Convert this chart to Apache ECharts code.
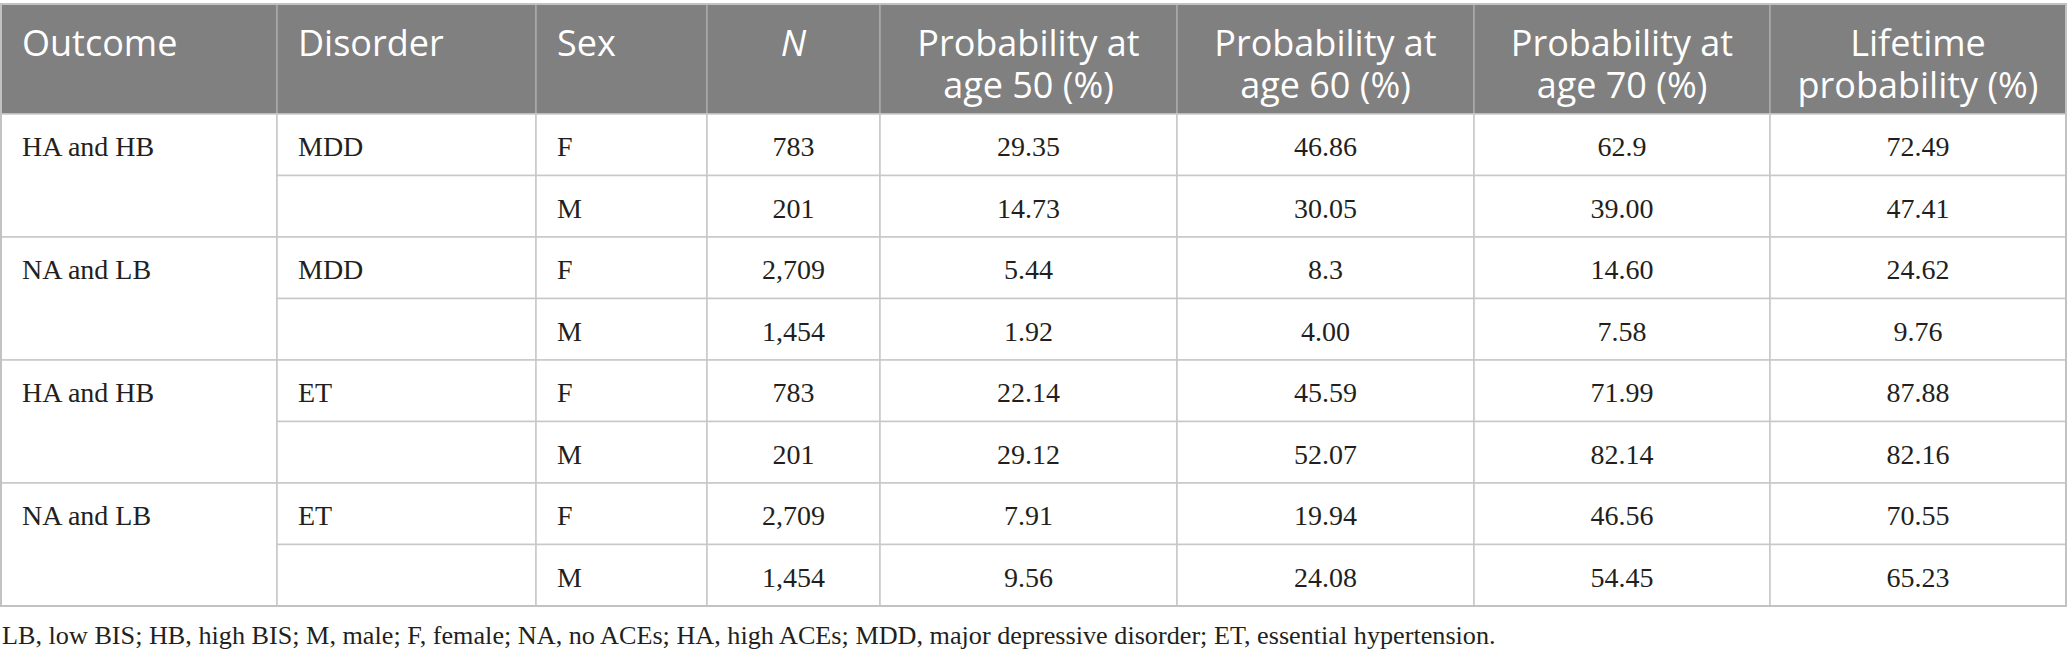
<!DOCTYPE html>
<html>
<head>
<meta charset="utf-8">
<script src="https://cdn.jsdelivr.net/npm/echarts@6.0.0/dist/echarts.min.js"></script>
<style>
html,body{margin:0;padding:0;background:#fff;}
#chart{width:2068px;height:658px;}
</style>
</head>
<body>
<div id="chart"></div>
<script>
// ---- data ----
const headers = ['Outcome', 'Disorder', 'Sex', 'N', 'Probability at\nage 50 (%)', 'Probability at\nage 60 (%)', 'Probability at\nage 70 (%)', 'Lifetime\nprobability (%)'];
const outcomes = ['HA and HB', 'NA and LB', 'HA and HB', 'NA and LB'];
const disorders = ['MDD', 'MDD', 'ET', 'ET'];
const sexes = ['F', 'M', 'F', 'M', 'F', 'M', 'F', 'M'];
const nValues = ['783', '201', '2,709', '1,454', '783', '201', '2,709', '1,454'];
const prob50 = ['29.35', '14.73', '5.44', '1.92', '22.14', '29.12', '7.91', '9.56'];
const prob60 = ['46.86', '30.05', '8.3', '4.00', '45.59', '52.07', '19.94', '24.08'];
const prob70 = ['62.9', '39.00', '14.60', '7.58', '71.99', '82.14', '46.56', '54.45'];
const lifetime = ['72.49', '47.41', '24.62', '9.76', '87.88', '82.16', '70.55', '65.23'];
const footnote = 'LB, low BIS; HB, high BIS; M, male; F, female; NA, no ACEs; HA, high ACEs; MDD, major depressive disorder; ET, essential hypertension.';

// ---- layout (sizes, not data) ----
const colWidths = [276, 259, 171, 173, 297, 297, 296, 296];
const HEADER_H = 110;
const ROW_H = 61.5;
const N_ROWS = sexes.length;
const TOTAL_W = colWidths.reduce((a, b) => a + b, 0);
const TOTAL_H = HEADER_H + N_ROWS * ROW_H;
const colEdges = [0];
colWidths.forEach(w => colEdges.push(colEdges[colEdges.length - 1] + w));
const PAD = 21;
const HEAD_FONT = 36;
const HEAD_LINE = 42;

// ---- build cells ----
const cells = [];
function rowTop(r) { return HEADER_H + r * ROW_H; }
headers.forEach((h, c) => {
  cells.push({col: c, y0: 0, y1: HEADER_H, text: h, kind: 'header', align: c < 3 ? 'left' : 'center', italic: c === 3});
});
const numericCols = [nValues, prob50, prob60, prob70, lifetime];
for (let r = 0; r < N_ROWS; r++) {
  const g = Math.floor(r / 2);
  if (r % 2 === 0) {
    cells.push({col: 0, y0: rowTop(r), y1: rowTop(r + 2), text: outcomes[g], kind: 'body', align: 'left', textRowTop: rowTop(r)});
  }
  cells.push({col: 1, y0: rowTop(r), y1: rowTop(r + 1), text: r % 2 === 0 ? disorders[g] : '', kind: 'body', align: 'left'});
  cells.push({col: 2, y0: rowTop(r), y1: rowTop(r + 1), text: sexes[r], kind: 'body', align: 'left'});
  numericCols.forEach((arr, k) => {
    cells.push({col: 3 + k, y0: rowTop(r), y1: rowTop(r + 1), text: arr[r], kind: 'body', align: 'center'});
  });
}
cells.push({kind: 'frame', col: 0, y0: 0, y1: TOTAL_H, text: ''});

const seriesData = cells.map(c => {
  if (c.kind === 'frame') return [0, 0, TOTAL_W, TOTAL_H];
  return [colEdges[c.col], c.y0, colEdges[c.col + 1], c.y1];
});

function renderItem(params, api) {
  const c = cells[params.dataIndex];
  const p0 = api.coord([api.value(0), api.value(1)]);
  const p1 = api.coord([api.value(2), api.value(3)]);
  const x = p0[0], y = p0[1], w = p1[0] - p0[0], h = p1[1] - p0[1];
  if (c.kind === 'frame') {
    return {type: 'rect', shape: {x: x, y: y, width: w, height: h}, style: {fill: 'none', stroke: '#c2c2c2', lineWidth: 2}};
  }
  const children = [];
  if (c.kind === 'header') {
    children.push({type: 'rect', shape: {x: x, y: y, width: w, height: h}, style: {fill: '#7f807f', stroke: '#a9aaa9', lineWidth: 1.5}});
    c.text.split('\n').forEach((line, i) => {
      children.push({type: 'text', style: {
        text: line, x: c.align === 'left' ? x + PAD : x + w / 2, y: y + 38 + i * HEAD_LINE,
        align: c.align, verticalAlign: 'middle', fill: '#ffffff',
        fontFamily: '"Open Sans", "Noto Sans", sans-serif', fontSize: HEAD_FONT,
        fontStyle: c.italic ? 'italic' : 'normal'
      }});
    });
  } else {
    children.push({type: 'rect', shape: {x: x, y: y, width: w, height: h}, style: {fill: '#ffffff', stroke: '#c8c8c8', lineWidth: 1.5}});
    let ty;
    if (c.textRowTop !== undefined) {
      const a = api.coord([0, c.textRowTop])[1];
      const b = api.coord([0, c.textRowTop + ROW_H])[1];
      ty = (a + b) / 2 + 2;
    } else {
      ty = y + h / 2 + 2;
    }
    children.push({type: 'text', style: {
      text: c.text, x: c.align === 'left' ? x + PAD : x + w / 2, y: ty,
      align: c.align, verticalAlign: 'middle', fill: '#231f20',
      fontFamily: '"Liberation Serif", "DejaVu Serif", serif', fontSize: 28
    }});
  }
  return {type: 'group', children: children};
}

const chart = echarts.init(document.getElementById('chart'), null, {renderer: 'svg', width: 2068, height: 658});
chart.setOption({
  animation: false,
  backgroundColor: '#ffffff',
  grid: {left: 1, top: 4, width: 2065, height: 602},
  xAxis: {type: 'value', min: 0, max: TOTAL_W, show: false},
  yAxis: {type: 'value', min: 0, max: TOTAL_H, inverse: true, show: false},
  series: [{
    type: 'custom',
    renderItem: renderItem,
    data: seriesData,
    encode: {x: [0, 2], y: [1, 3]},
    clip: false,
    silent: true
  }],
  graphic: [{
    type: 'text',
    x: 2, y: 635,
    style: {
      text: footnote, verticalAlign: 'middle', fill: '#231f20',
      fontFamily: '"Liberation Serif", "DejaVu Serif", serif', fontSize: 26.2
    }
  }]
});
</script>
</body>
</html>
